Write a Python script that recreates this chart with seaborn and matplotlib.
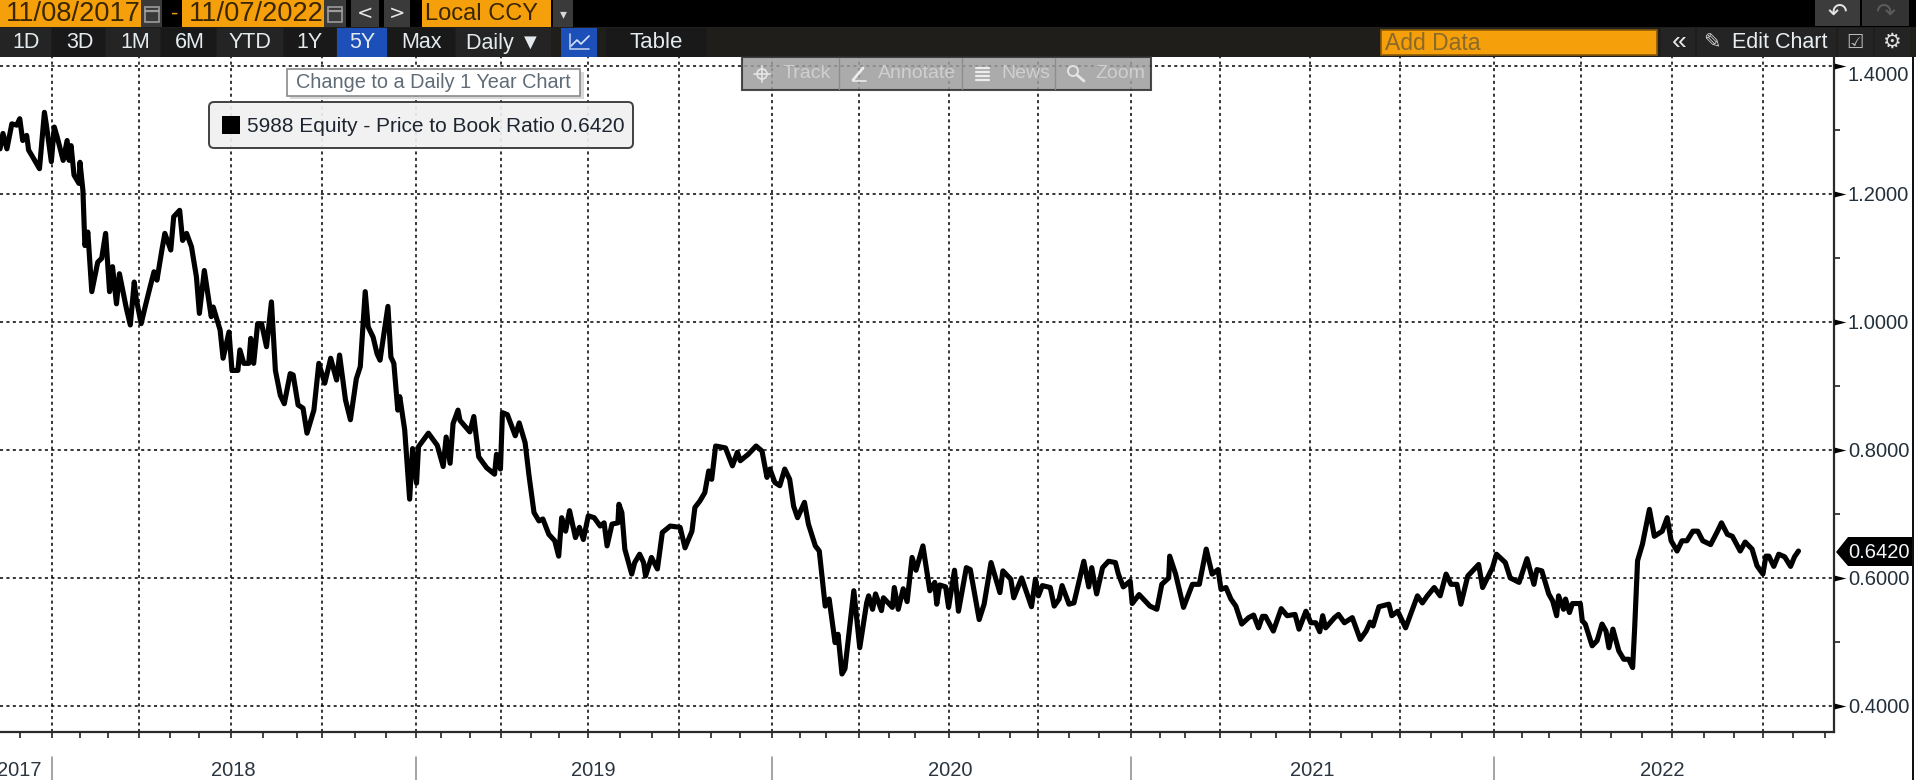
import numpy as np
import pandas as pd
import matplotlib
matplotlib.use("Agg")
import matplotlib.pyplot as plt
from matplotlib.patches import Rectangle, FancyBboxPatch, Polygon, Circle
from matplotlib.path import Path
import seaborn as sns

# values: calendar days after the first date, and the ratio
start_date = "2017-11-08"
days_from_start = [
    0, 3, 7, 12, 17, 20, 23, 27, 29, 34, 40, 45, 47, 52, 55, 58, 64, 68, 70, 72, 75, 80, 81, 84, 86, 89, 93, 99,
    103, 107, 111, 114, 118, 121, 128, 132, 136, 138, 143, 147, 152, 156, 159, 164, 167, 173, 176, 182, 185, 189,
    194, 199, 202, 207, 214, 216, 223, 226, 232, 235, 241, 243, 247, 252, 254, 257, 261, 265, 270, 275, 279, 284,
    288, 294, 297, 302, 307, 311, 318, 323, 329, 335, 341, 344, 350, 355, 361, 365, 370, 373, 378, 382, 385, 393,
    396, 399, 403, 405, 410, 415, 418, 422, 424, 434, 443, 449, 452, 456, 459, 464, 466, 476, 480, 485,
    493, 501, 503, 507, 509, 514, 522, 526, 532, 536, 541, 546, 550, 556, 562, 566, 569, 573, 577, 583, 587, 591,
    596, 602, 608, 612, 615, 620, 626, 627, 630, 633, 640, 643, 648, 652, 654, 660, 666, 671, 679, 689, 694, 701,
    704, 709, 714, 718, 721, 725, 735, 742, 747, 750, 758, 766, 772, 777, 780, 785, 790, 795, 800, 804, 808, 815,
    819, 826, 830, 836, 840, 846, 849, 853, 856, 865, 871,
    878, 880, 884, 887, 893, 895, 904, 906, 910, 915, 919, 924, 928, 935, 942, 947, 949, 952, 958, 961, 967, 971,
    979, 983, 992, 997, 1004, 1013, 1016, 1024, 1027, 1035, 1045, 1049, 1052, 1056, 1064, 1068, 1073, 1076, 1083,
    1088, 1098, 1103, 1106, 1111, 1117, 1123, 1130, 1133, 1138, 1145, 1147, 1154, 1165, 1172, 1177, 1184, 1185,
    1191, 1199, 1208, 1215,
    1222, 1228, 1234, 1237, 1242, 1247, 1252, 1258, 1265, 1270, 1275, 1279, 1282, 1290, 1298, 1304, 1312, 1316,
    1323, 1328, 1333, 1337, 1340, 1343, 1352, 1356, 1362, 1370, 1378, 1384, 1388, 1391, 1397, 1407, 1410, 1416,
    1424, 1429, 1436, 1441, 1446, 1453, 1459, 1465, 1470, 1476, 1480, 1487, 1498, 1502, 1512, 1516, 1525, 1530,
    1539, 1547, 1554, 1557, 1562, 1569,
    1573, 1577, 1579, 1584, 1586, 1590, 1593, 1601, 1603, 1606, 1613, 1618, 1623, 1627, 1630, 1634, 1640, 1645,
    1650, 1654, 1656, 1659, 1664, 1671, 1676, 1684, 1689, 1693, 1699, 1704, 1709, 1715, 1720, 1725, 1733, 1740,
    1744, 1750, 1755, 1763, 1768, 1775, 1780, 1786, 1789, 1792, 1797, 1802, 1808, 1814, 1818, 1822,
]
price_to_book = [
    1.270, 1.294, 1.270, 1.309, 1.307, 1.317, 1.283, 1.291, 1.268, 1.255, 1.239, 1.327, 1.307, 1.250, 1.304, 1.288,
    1.252, 1.283, 1.252, 1.275, 1.229, 1.216, 1.249, 1.205, 1.119, 1.140, 1.047, 1.093, 1.099, 1.138, 1.047, 1.086,
    1.028, 1.075, 1.021, 0.995, 1.062, 1.036, 0.997, 1.023, 1.054, 1.078, 1.065, 1.112, 1.138, 1.112, 1.164, 1.174,
    1.127, 1.138, 1.117, 1.070, 1.013, 1.080, 1.008, 1.023, 0.987, 0.943, 0.984, 0.924, 0.924, 0.956, 0.935, 0.935,
    0.974, 0.935, 0.997, 0.997, 0.961, 1.031, 0.924, 0.885, 0.872, 0.919, 0.917, 0.870, 0.865, 0.826, 0.862, 0.935,
    0.904, 0.943, 0.909, 0.948, 0.878, 0.847, 0.911, 0.930, 1.047, 0.992, 0.976, 0.950, 0.940, 1.024, 0.945, 0.935,
    0.862, 0.883, 0.831, 0.723, 0.802, 0.748, 0.805, 0.826, 0.807, 0.774, 0.820, 0.779, 0.841, 0.862, 0.846, 0.828,
    0.852, 0.789,
    0.772, 0.762, 0.793, 0.770, 0.858, 0.855, 0.822, 0.842, 0.811, 0.759, 0.702, 0.689, 0.692, 0.668, 0.658, 0.634,
    0.694, 0.673, 0.705, 0.663, 0.679, 0.660, 0.697, 0.694, 0.681, 0.686, 0.650, 0.684, 0.686, 0.715, 0.702, 0.645,
    0.606, 0.624, 0.637, 0.624, 0.603, 0.632, 0.614, 0.671, 0.681, 0.679, 0.647, 0.673, 0.710, 0.720, 0.733, 0.767,
    0.754, 0.806, 0.803, 0.775, 0.796, 0.783, 0.793, 0.806, 0.798, 0.757, 0.770, 0.749, 0.744, 0.770, 0.754, 0.712,
    0.694, 0.718, 0.684, 0.650, 0.642, 0.556, 0.567, 0.499, 0.512, 0.450, 0.458, 0.580, 0.491,
    0.561, 0.572, 0.551, 0.575, 0.549, 0.569, 0.554, 0.585, 0.551, 0.583, 0.563, 0.632, 0.612, 0.650, 0.580, 0.593,
    0.559, 0.589, 0.586, 0.554, 0.612, 0.548, 0.616, 0.613, 0.535, 0.559, 0.624, 0.577, 0.611, 0.598, 0.569, 0.600,
    0.555, 0.598, 0.572, 0.588, 0.585, 0.556, 0.567, 0.588, 0.559, 0.561, 0.626, 0.586, 0.616, 0.575, 0.616, 0.626,
    0.624, 0.606, 0.586, 0.595, 0.560, 0.574, 0.556, 0.551, 0.590, 0.600, 0.634, 0.606, 0.554, 0.590, 0.590,
    0.645, 0.606, 0.613, 0.582, 0.585, 0.567, 0.556, 0.528, 0.538, 0.542, 0.522, 0.540, 0.540, 0.517, 0.552, 0.541,
    0.543, 0.520, 0.548, 0.530, 0.530, 0.516, 0.541, 0.522, 0.538, 0.543, 0.530, 0.538, 0.504, 0.517, 0.531, 0.525,
    0.555, 0.559, 0.541, 0.548, 0.522, 0.543, 0.572, 0.561, 0.572, 0.585, 0.572, 0.606, 0.590, 0.590, 0.559, 0.603,
    0.621, 0.585, 0.616, 0.637, 0.624, 0.600, 0.593, 0.630, 0.590, 0.613, 0.611, 0.575,
    0.564, 0.541, 0.572, 0.551, 0.567, 0.546, 0.560, 0.560, 0.533, 0.528, 0.494, 0.502, 0.528, 0.517, 0.491, 0.520,
    0.486, 0.473, 0.473, 0.460, 0.520, 0.627, 0.653, 0.707, 0.665, 0.673, 0.694, 0.658, 0.642, 0.658, 0.658, 0.673,
    0.673, 0.658, 0.652, 0.673, 0.686, 0.668, 0.665, 0.642, 0.656, 0.645, 0.619, 0.606, 0.634, 0.634, 0.618, 0.637,
    0.633, 0.618, 0.633, 0.642,
]
y_ticks = [0.4, 0.6, 0.8, 1.0, 1.2, 1.4]
y_tick_labels = ["0.4000", "0.6000", "0.8000", "1.0000", "1.2000", "1.4000"]
y_minor = [0.5, 0.7, 0.9, 1.1, 1.3]
quarter_days = [53, 141, 234, 326, 421, 508, 596, 688, 782, 870, 961, 1052, 1146, 1236, 1327, 1418, 1514, 1602, 1694,
                1786]
month_days = [20, 81, 109, 172, 202, 266, 301, 360, 391, 447, 476, 538, 566, 628, 661, 720, 750, 810, 837, 901, 927,
              992, 1023, 1083, 1113, 1175, 1201, 1267, 1293, 1359, 1390, 1450, 1481, 1542, 1569, 1632, 1663, 1726,
              1757, 1816, 1849]
year_labels = ["2017", "2018", "2019", "2020", "2021", "2022"]
year_label_days = [20, 236, 601, 963, 1329, 1684]
year_start_days = [53, 421, 782, 1146, 1514]
last_value = "0.6420"
range_buttons = ["1D", "3D", "1M", "6M", "YTD", "1Y", "5Y", "Max", "Daily ▼"]

W, H = 1916, 780
NARROW = ["Liberation Sans", "DejaVu Sans"]
ORANGE = "#f59f0a"
BLUE = "#1d4fb8"

sns.set_theme(style="white")
plt.rcParams["font.family"] = NARROW


def to_dates(days):
    return pd.Timestamp(start_date) + pd.to_timedelta(days, unit="D")


df = pd.DataFrame({"date": to_dates(days_from_start), "ratio": price_to_book})

fig = plt.figure(figsize=(W / 100, H / 100), dpi=100, facecolor="white")
ax = fig.add_axes([0, (H - 732) / H, 1834 / W, (732 - 57) / H])
sns.lineplot(data=df, x="date", y="ratio", ax=ax, color="black", linewidth=3.7, estimator=None,
             solid_joinstyle="round", zorder=5)

ax.set_xlim(pd.Timestamp(start_date), to_dates(1858))
ax.set_ylim(0.3594, 1.4134)
ax.set_xlabel("")
ax.set_ylabel("")

# quarterly grid, monthly ticks
ax.set_xticks(to_dates(quarter_days))
ax.set_xticks(to_dates(month_days), minor=True)
ax.tick_params(axis="x", which="both", direction="out", bottom=True, length=4, width=1.2, color="#222222",
               labelbottom=False)

ax.yaxis.tick_right()
ax.set_yticks(y_ticks)
ax.set_yticklabels(y_tick_labels, fontsize=14.5, color="#22303c")
ax.set_yticks(y_minor, minor=True)
ax.tick_params(axis="y", which="major", length=0, pad=10)
ax.tick_params(axis="y", which="minor", right=True, length=4, width=1.2, color="#222222")
ax.get_yticklabels()[-1].set_verticalalignment("top")

ax.grid(True, which="major", color="black", linewidth=1.1, linestyle=(0, (2, 2.2)))
ax.set_axisbelow(True)
for side in ["top", "left"]:
    ax.spines[side].set_visible(False)
for side in ["bottom", "right"]:
    ax.spines[side].set_color("#2a2a2a")
    ax.spines[side].set_linewidth(1.6)

# triangles on the major y ticks
arrow = Path([(0, -0.25), (1, 0), (0, 0.25), (0, -0.25)], closed=True)
ax.plot([1.0] * len(y_ticks), y_ticks, transform=ax.get_yaxis_transform(), linestyle="none", marker=arrow,
        markersize=17, color="black", markeredgewidth=0, clip_on=False, zorder=6)

# year band under the axis
xform = ax.get_xaxis_transform()
for name, day in zip(year_labels, year_label_days):
    ax.text(to_dates(day), -38 / 675, name, transform=xform, ha="center", va="center", fontsize=14.5,
            color="#2b3540", clip_on=False)
for day in year_start_days:
    ax.plot([to_dates(day)] * 2, [-25 / 675, -48 / 675], transform=xform, color="#8a8a8a", linewidth=1.1,
            clip_on=False)

# ---- screen furniture, in pixels ----
ui = fig.add_axes([0, 0, 1, 1], zorder=10)
ui.set_xlim(0, W)
ui.set_ylim(H, 0)
ui.axis("off")
ui.patch.set_alpha(0)


def box(x0, y0, x1, y1, color, edge="none", lw=0, alpha=1.0, z=1):
    ui.add_patch(Rectangle((x0, y0), x1 - x0, y1 - y0, facecolor=color, edgecolor=edge, linewidth=lw, alpha=alpha,
                           zorder=z))


def label(x, y, text, color, size=15, ha="center", family=None, z=3):
    ui.text(x, y, text, color=color, fontsize=size, ha=ha, va="center", family=family or NARROW, zorder=z)


def calendar(cx, cy, color="#9c9c9c"):
    box(cx - 7, cy - 7, cx + 7, cy + 8, "none", edge=color, lw=1.2, z=3)
    ui.plot([cx - 7, cx + 7], [cy - 3, cy - 3], color=color, linewidth=1.6, zorder=3)


# top rows
box(0, 0, W, 27, "black")
box(0, 27, W, 57, "#1f1e1a")
box(0, 0, 141, 27, ORANGE, z=2)
box(141, 0, 162, 27, "#3a3a3a", z=2)
calendar(152, 14)
label(175, 14, "-", ORANGE, size=16)
box(182, 0, 324, 27, ORANGE, z=2)
box(324, 0, 346, 27, "#3a3a3a", z=2)
calendar(335, 14)
label(6, 14, "11/08/2017", "#3a2600", size=19.6, ha="left")
label(189, 14, "11/07/2022", "#3a2600", size=19.6, ha="left")
box(351, 0, 379, 27, "#3a3a3a", z=2)
box(384, 0, 410, 27, "#3a3a3a", z=2)
label(365, 13, "<", "#e8e8e8", size=14, family="DejaVu Sans")
label(397, 13, ">", "#e8e8e8", size=14, family="DejaVu Sans")
box(422, 0, 551, 27, ORANGE, z=2)
label(425, 14, "Local CCY", "#3a2600", size=17, ha="left")
box(553, 0, 573, 27, "#3a3a3a", z=2)
label(563, 14, "▾", "#d8d8d8", size=10, family="DejaVu Sans")

# range buttons
button_edges = [0, 52, 106, 161, 217, 284, 337, 388, 456, 552]
button_centers = [26, 80, 135, 190, 250, 309, 362, 422, 504]
for i, name in enumerate(range_buttons):
    face = BLUE if name == "5Y" else "#191919" if i % 2 else "#242424"
    box(button_edges[i], 28, button_edges[i + 1] - 1, 57, face, z=2)
    label(button_centers[i], 43, name, "#e4ebef", size=15.5, z=3)
box(561, 28, 597, 57, BLUE, z=2)
ui.plot([570, 570, 589], [34, 49, 49], color="#b8c9ea", linewidth=1.2, zorder=3)
ui.plot([571, 577, 581, 589], [46, 40, 44, 36], color="#d8e4f8", linewidth=1.2, zorder=3)
box(606, 28, 707, 57, "#191919", z=2)
label(656, 43, "Table", "#e4ebef", size=16)

# add data field and the tools on the right
box(1381, 30, 1657, 55, ORANGE, edge="#8a5a08", lw=1.2, z=2)
label(1385, 43, "Add Data", "#8a6a2a", size=16.5, ha="left")
box(1661, 28, 1695, 57, "#242424", z=2)
label(1679, 42, "«", "#e8e8e8", size=19)
box(1697, 28, 1836, 57, "#242424", z=2)
label(1712, 42, "✎", "#cfcfcf", size=15, family="DejaVu Sans")
label(1732, 43, "Edit Chart", "#e8eef2", size=15.5, ha="left")
box(1838, 28, 1873, 57, "#242424", z=2)
label(1855, 42, "☑", "#b8b8b8", size=14, family="DejaVu Sans")
box(1875, 28, 1910, 57, "#242424", z=2)
label(1891, 42, "⚙", "#e0e0e0", size=15, family="DejaVu Sans")
box(1815, 0, 1860, 26, "#3c3c3c", z=2)
label(1837, 13, "↶", "#e6e6e6", size=17, family="DejaVu Sans")
box(1862, 0, 1909, 26, "#333333", z=2)
label(1885, 13, "↷", "#5c5c5c", size=17, family="DejaVu Sans")

# floating chart tools
box(742, 57, 1151, 90, "#9d9d9d", edge="#2c2c2c", lw=1.5, alpha=0.85, z=2)
for sep in [839, 962, 1055]:
    ui.plot([sep, sep], [58, 89], color="#8d8d8d", linewidth=1, zorder=3)
label(807, 73, "Track", "#cfcfcf", size=14)
label(917, 73, "Annotate", "#cfcfcf", size=14)
label(1026, 73, "News", "#cfcfcf", size=14)
label(1120, 73, "Zoom", "#cfcfcf", size=14)
ui.add_patch(Circle((762, 74), 5, facecolor="none", edgecolor="#e6e6e6", linewidth=1.2, zorder=3))
ui.plot([754, 770], [74, 74], color="#e6e6e6", linewidth=1.2, zorder=3)
ui.plot([762, 762], [66, 82], color="#e6e6e6", linewidth=1.2, zorder=3)
ui.plot([853, 863], [80, 68], color="#ececec", linewidth=2, zorder=3)
ui.plot([853, 866], [81, 81], color="#ececec", linewidth=1.2, zorder=3)
for row in [68, 72, 76, 80]:
    ui.plot([976, 989], [row, row], color="#ececec", linewidth=1.6, zorder=3)
ui.add_patch(Circle((1073, 71), 5, facecolor="none", edgecolor="#e6e6e6", linewidth=1.3, zorder=3))
ui.plot([1077, 1084], [75, 81], color="#e6e6e6", linewidth=2, zorder=3)

# tooltip
box(290, 72, 584, 99, "#b8b8b8", alpha=0.55, z=2)
box(287, 69, 580, 96, "white", edge="#8a8a8a", lw=1.2, z=2)
label(433, 82, "Change to a Daily 1 Year Chart", "#5f6b76", size=14.3)

# legend
ui.add_patch(FancyBboxPatch((212, 105), 418, 40, boxstyle="round,pad=3,rounding_size=5", facecolor="#f0f0f0",
                            edgecolor="#333333", linewidth=1.4, alpha=0.93, zorder=2))
box(222, 116, 240, 134, "black", z=3)
label(247, 127, "5988 Equity - Price to Book Ratio " + last_value, "#1c2530", size=15, ha="left")

# last value tag and the border on the right
ui.add_patch(Polygon([(1836, 552), (1848, 537), (1912, 537), (1912, 566), (1848, 566)], closed=True,
                     facecolor="black", edgecolor="none", zorder=2))
label(1848, 552, last_value, "#f2f6fa", size=14.5, ha="left")
box(1912, 57, 1914, H, "#111111", z=2)

fig.savefig("out.png", dpi=100)
